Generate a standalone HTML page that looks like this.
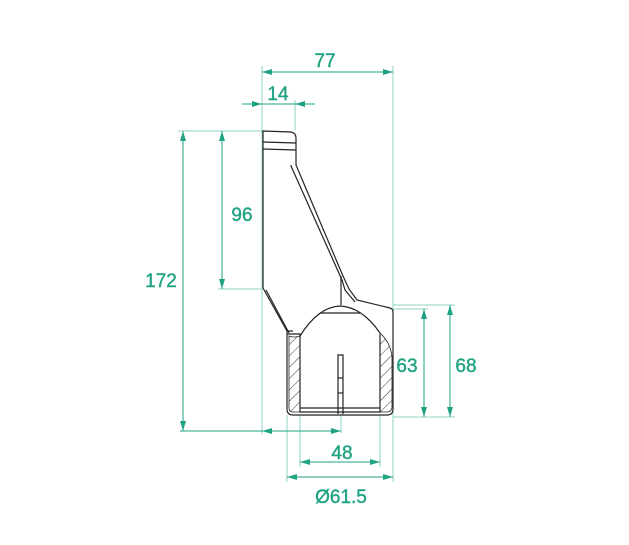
<!DOCTYPE html>
<html><head><style>body{margin:0;background:#fff}svg{display:block}</style></head><body>
<svg width="629" height="545" viewBox="0 0 629 545" xmlns="http://www.w3.org/2000/svg">
<defs>
<marker id="a" viewBox="0 0 10 6" refX="10" refY="3" markerWidth="10" markerHeight="6" orient="auto-start-reverse" markerUnits="userSpaceOnUse"><path d="M0,0L10,3L0,6z" fill="#1fa383"/></marker>
<pattern id="h" width="8" height="8" patternUnits="userSpaceOnUse" patternTransform="rotate(45)"><line x1="0" y1="0" x2="0" y2="8" stroke="#222" stroke-width="0.9"/></pattern>
</defs>
<g stroke="#8fd3c3" stroke-width="1" fill="none">
<line x1="262" y1="66" x2="262" y2="434"/>
<line x1="393" y1="66" x2="393" y2="482"/>
<line x1="295" y1="100" x2="295" y2="130"/>
<line x1="178" y1="131" x2="262" y2="131"/>
<line x1="218" y1="289" x2="262" y2="289"/>
<line x1="393" y1="305" x2="455" y2="305"/>
<line x1="393" y1="309" x2="428" y2="309"/>
<line x1="393" y1="417" x2="455" y2="417"/>
<line x1="287" y1="415" x2="287" y2="482"/>
<line x1="300" y1="415" x2="300" y2="467"/>
<line x1="380" y1="415" x2="380" y2="467"/>
<line x1="341" y1="415" x2="341" y2="433"/>
</g>
<g stroke="#1fa383" stroke-width="1" fill="none">
<line x1="262" y1="72" x2="393" y2="72" marker-start="url(#a)" marker-end="url(#a)"/>
<line x1="242" y1="104" x2="262" y2="104" marker-end="url(#a)"/>
<line x1="315" y1="104" x2="295" y2="104" marker-end="url(#a)"/>
<line x1="262" y1="104" x2="295" y2="104"/>
<line x1="183" y1="131" x2="183" y2="431" marker-start="url(#a)" marker-end="url(#a)"/>
<line x1="222" y1="131" x2="222" y2="289" marker-start="url(#a)" marker-end="url(#a)"/>
<line x1="180" y1="431" x2="341" y2="431"/>
<line x1="262" y1="431" x2="283" y2="431" marker-start="url(#a)"/>
<line x1="320" y1="431" x2="341" y2="431" marker-end="url(#a)"/>
<line x1="424" y1="309" x2="424" y2="417" marker-start="url(#a)" marker-end="url(#a)"/>
<line x1="450" y1="305" x2="450" y2="417" marker-start="url(#a)" marker-end="url(#a)"/>
<line x1="300" y1="462" x2="380" y2="462" marker-start="url(#a)" marker-end="url(#a)"/>
<line x1="287" y1="477" x2="393" y2="477" marker-start="url(#a)" marker-end="url(#a)"/>
</g>
<g font-family="Liberation Sans, sans-serif" font-size="19" fill="#1fa383" stroke="#1fa383" stroke-width="0.4" text-anchor="middle">
<text x="325" y="67">77</text>
<text x="278" y="100">14</text>
<text x="161" y="287">172</text>
<text x="242" y="221">96</text>
<text x="407" y="372">63</text>
<text x="466" y="372">68</text>
<text x="342" y="459">48</text>
<text x="341" y="503">Ø61.5</text>
</g>
<g stroke="#222" stroke-width="1.2" fill="none">
<path d="M263,288 L263,131 L291,132 Q296,133 296,138 L296,165 L343,276 L349,289 L357,300 L390,308 Q393,309 393,312"/>
<path d="M291,165 L291,166 L342,280 L345,290 L355,302"/>
<line x1="263" y1="142" x2="296" y2="143"/>
<line x1="263" y1="149" x2="296" y2="150"/>
<line x1="341" y1="276" x2="341" y2="305"/>
<path d="M263,288 L287,331 L293,331"/>
<path d="M266,290 L289,333"/>
<path d="M300,336 Q318,307 340,306 Q362,307 380,333"/>
<line x1="320" y1="313" x2="360" y2="313"/>
<path d="M287,331 L287,409 Q287,415 293,415 L387,415 Q393,415 393,409 L393,312"/>
<path d="M287,334 L300,334 L300,412 L380,412 L380,334"/>
<line x1="300" y1="408" x2="380" y2="408"/>
<path d="M338,414 L338,355 L343,355 L343,414"/>
<line x1="338" y1="378" x2="343" y2="378"/>
<line x1="338" y1="393" x2="343" y2="393"/>
</g>
<path d="M289,336 Q294,338 300,336 L300,412 L293,412 Q289,412 289,408 Z" fill="url(#h)" stroke="#222" stroke-width="0.8"/>
<path d="M380,333 Q390,342 392,356 L392,408 Q391,412 387,412 L380,412 Z" fill="url(#h)" stroke="#222" stroke-width="0.8"/>
</svg>
</body></html>
